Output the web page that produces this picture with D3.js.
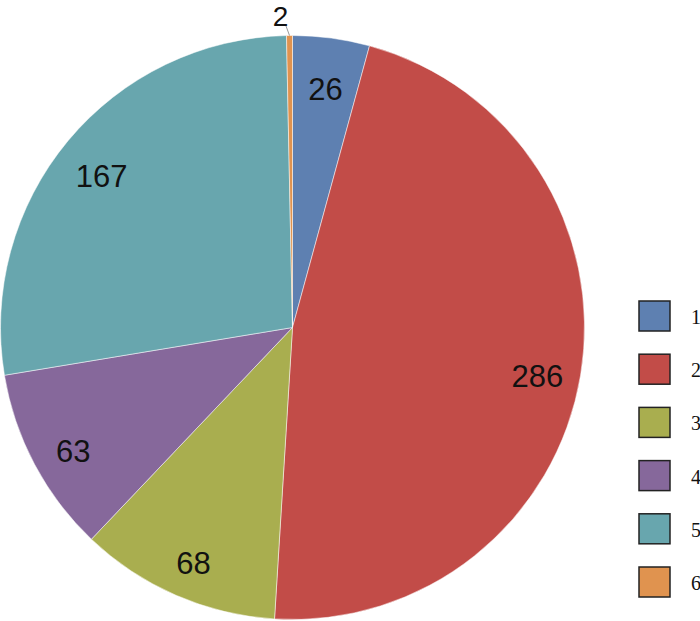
<!DOCTYPE html>
<html>
<head>
<meta charset="utf-8">
<script src="https://cdn.jsdelivr.net/npm/d3@7"></script>
<style>
  body { margin: 0; background: #fff; }
  .slice-label { font-family: "Liberation Sans", Arial, sans-serif; font-size: 31px; fill: #111; }
  .slice-label.outside { font-size: 28px; }
  .legend-label { font-family: "Liberation Serif", "Times New Roman", serif; font-size: 20px; fill: #111; }
</style>
</head>
<body>
<div id="chart"></div>
<script>
// slice data, clockwise from 12 o'clock
var categories = ['1', '2', '3', '4', '5', '6'];
var values = [26, 286, 68, 63, 167, 2];
var colors = ['#5e80b1', '#c24c48', '#a9ae4f', '#86689b', '#68a6ae', '#e0934f'];

var width = 700, height = 621;
var radius = 292;
var cx = 292.5, cy = 327.5;

var svg = d3.select('#chart')
  .append('svg')
  .attr('width', width)
  .attr('height', height);

var g = svg.append('g')
  .attr('transform', 'translate(' + cx + ',' + cy + ')');

var pie = d3.pie().sort(null).value(function(d) { return d; });
var arcs = pie(values);

var arc = d3.arc().innerRadius(0).outerRadius(radius);
var labelArc = d3.arc().innerRadius(radius * 0.85).outerRadius(radius * 0.85);

// slices
g.selectAll('path.slice')
  .data(arcs)
  .enter().append('path')
    .attr('class', 'slice')
    .attr('d', arc)
    .attr('fill', function(d, i) { return colors[i]; })
    .attr('stroke', '#fff')
    .attr('stroke-width', 0.5);

// labels - tiny slices go outside with a leader line
function midAngle(d) { return (d.startAngle + d.endAngle) / 2; }
function polar(a, r) { return [Math.sin(a) * r, -Math.cos(a) * r]; }

arcs.forEach(function(d, i) {
  var small = (d.endAngle - d.startAngle) < 0.05;
  var p, dy = 8;
  if (small) {
    var a = midAngle(d);
    var p0 = polar(a, radius), p1 = polar(a - 0.012, radius * 1.035);
    g.append('line')
      .attr('x1', p0[0]).attr('y1', p0[1])
      .attr('x2', p1[0]).attr('y2', p1[1])
      .attr('stroke', '#999')
      .attr('stroke-width', 1);
    p = polar(a - 0.028, radius * 1.065);
    dy = 0;
  } else {
    p = labelArc.centroid(d);
  }
  g.append('text')
    .attr('class', small ? 'slice-label outside' : 'slice-label')
    .attr('x', p[0])
    .attr('y', p[1] + dy)
    .attr('text-anchor', 'middle')
    .attr('dominant-baseline', 'central')
    .text(values[i]);
});

// legend
var legend = svg.append('g')
  .attr('transform', 'translate(639,301)');

var item = legend.selectAll('g.item')
  .data(categories)
  .enter().append('g')
    .attr('class', 'item')
    .attr('transform', function(d, i) { return 'translate(0,' + (i * 53.2) + ')'; });

item.append('rect')
  .attr('width', 31)
  .attr('height', 30)
  .attr('fill', function(d, i) { return colors[i]; })
  .attr('stroke', '#222')
  .attr('stroke-width', 1.5);

item.append('text')
  .attr('class', 'legend-label')
  .attr('x', 52)
  .attr('y', 16)
  .attr('dominant-baseline', 'central')
  .text(function(d) { return d; });
</script>
</body>
</html>
